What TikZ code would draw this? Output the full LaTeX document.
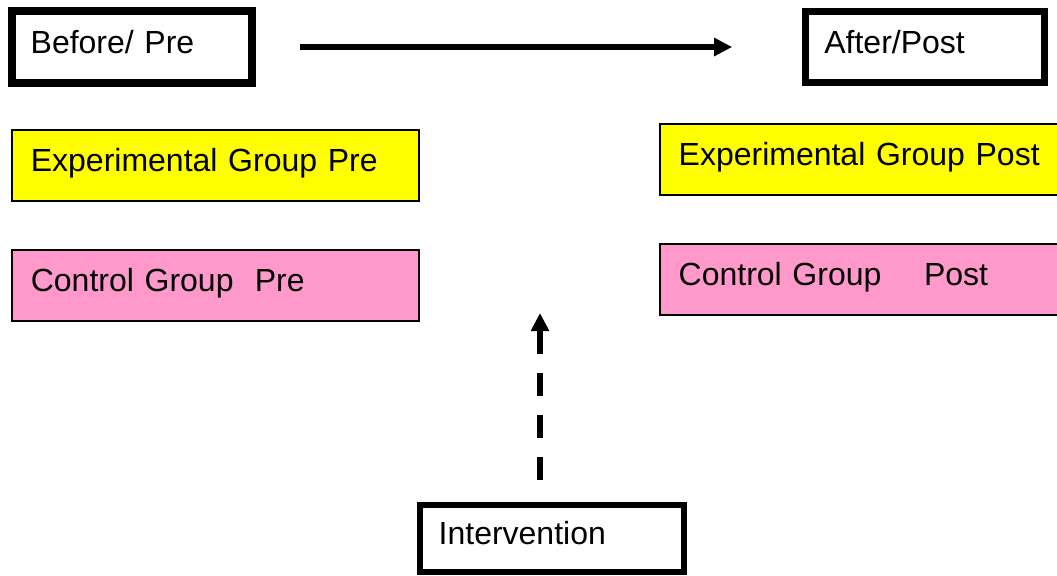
\documentclass[tikz,border=0pt]{standalone}
\usepackage{fontspec}
\setmainfont{Liberation Sans}
\usepackage{tikz}
\usetikzlibrary{arrows.meta, calc}

\definecolor{expyellow}{RGB}{255,255,0}
\definecolor{ctrlpink}{RGB}{255,153,204}

\begin{document}
\begin{tikzpicture}[x=0.75pt, y=-0.75pt,
    every node/.style={font=\fontsize{24}{28}\selectfont, align=left, inner xsep=14pt, inner ysep=0pt, text height=17pt, text depth=7.5pt},
    phasebox/.style={draw, line width=#1},
    groupbox/.style={draw, line width=1.1pt, fill=#1, minimum height=53.25pt},
    bigtip/.style={-{Triangle[length=13.5pt, width=13pt]}, line width=4.5pt}]
    % Frame
    \clip (0,0) rectangle (1057,575);

    % Points
    \coordinate (target) at (540,313);

    % Phases
    \node[phasebox=6pt, text width=152pt, minimum height=54pt] (before) at (132,47) {Before/ Pre};
    \node[phasebox=5.25pt, text width=151pt, minimum height=53.25pt] (after) at (925,47) {After/Post};
    \node[phasebox=4.5pt, text width=170pt, minimum height=50.25pt] (intervention) at (552,538.5) {Intervention};

    % Groups
    \node[groupbox=expyellow, text width=277pt] (expPre) at (215.5,165.5) {Experimental Group Pre};
    \node[groupbox=ctrlpink, text width=277pt] (ctrlPre) at (215.5,285.5) {Control Group\ \ Pre};
    \node[groupbox=expyellow, text width=287pt] (expPost) at (870,159.5) {Experimental Group Post};
    \node[groupbox=ctrlpink, text width=287pt] (ctrlPost) at (870,279.5) {Control Group\ \ \ \ Post};

    % Arrows
    \draw[bigtip, shorten <=33pt, shorten >=52.5pt] (before.east) -- (after.west);
    \draw[bigtip, dash pattern=on 17pt off 14.5pt, shorten <=16.5pt] (target |- intervention.north) -- (target);
\end{tikzpicture}
\end{document}
